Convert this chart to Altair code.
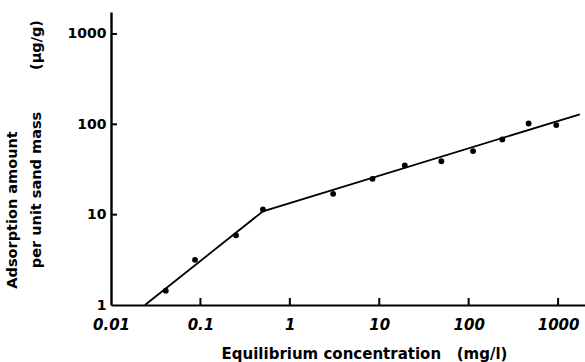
import altair as alt
import pandas as pd

# Measured adsorption on sand: equilibrium concentration (mg/l) vs amount adsorbed (ug/g)
conc = [0.041, 0.087, 0.25, 0.50, 3.05, 8.4, 19.3, 49.5, 112, 238, 468, 955]
amount = [1.44, 3.16, 5.9, 11.4, 17.0, 24.9, 35.0, 39.0, 50.5, 68.0, 102, 98]

# Two-segment fitted isotherm (break near 0.5 mg/l)
fit_conc = [0.024, 0.5, 1750]
fit_amount = [1.0, 10.9, 129]

x_ticks = [0.01, 0.1, 1, 10, 100, 1000]
y_ticks = [1, 10, 100, 1000]

FONT = "DejaVu Sans"
W, H = 474, 293
NBSP = "\u00a0"

xscale = alt.Scale(type="log", domain=[0.01, 2000], nice=False)
yscale = alt.Scale(type="log", domain=[1, 1750], nice=False)

pts = pd.DataFrame({"c": conc, "a": amount})
fit = pd.DataFrame({"c": fit_conc, "a": fit_amount})

line = alt.Chart(fit).mark_line(color="black", strokeWidth=1.8).encode(
    x=alt.X(
        "c:Q",
        scale=xscale,
        axis=alt.Axis(
            values=x_ticks,
            labelExpr="datum.value >= 1 ? format(datum.value, 'd') : format(datum.value, '.2~f')",
            grid=False,
            ticks=False,
            domainColor="black",
            domainWidth=2.2,
            labelFont=FONT,
            labelFontSize=15,
            labelFontWeight="bold",
            labelFontStyle="italic",
            labelColor="black",
            labelPadding=12,
            labelFlush=False,
            labelOverlap=False,
            title="Equilibrium concentration" + NBSP * 3 + "(mg/l)",
            titleFont=FONT,
            titleFontSize=15,
            titleFontWeight="bold",
            titleColor="black",
            titleAnchor="start",
            titleAlign="center",
            titleBaseline="alphabetic",
            titleX=253,
            titleY=53,
        ),
    ),
    y=alt.Y(
        "a:Q",
        scale=yscale,
        axis=alt.Axis(
            values=y_ticks,
            format="d",
            grid=False,
            ticks=False,
            domainColor="black",
            domainWidth=2.4,
            labelFont=FONT,
            labelFontSize=14,
            labelFontWeight="bold",
            labelColor="black",
            labelPadding=5,
            labelFlush=False,
            labelOverlap=False,
            title=None,
        ),
    ),
)

dots = alt.Chart(pts).mark_circle(color="black", opacity=1, size=34).encode(
    x=alt.X("c:Q", scale=xscale),
    y=alt.Y("a:Q", scale=yscale),
)

# Inward-pointing tick marks on both axes
xt = pd.DataFrame({"v": x_ticks[1:]})
yt = pd.DataFrame({"v": y_ticks[1:]})
xticks = alt.Chart(xt).mark_rule(color="black", strokeWidth=2).encode(
    x=alt.X("v:Q", scale=xscale),
    y=alt.value(H),
    y2=alt.value(H - 7),
)
yticks = alt.Chart(yt).mark_rule(color="black", strokeWidth=2).encode(
    y=alt.Y("v:Q", scale=yscale),
    x=alt.value(0),
    x2=alt.value(6),
)

# Rotated y-axis title, two lines
ytitle = pd.DataFrame({
    "t": ["Adsorption amount", "per unit sand mass", "(\u03bcg/g)"],
    "px": [-98, -74, -74],
    "py": [198, 178, 33],
})
ylab = alt.Chart(ytitle).mark_text(
    angle=270, align="center", baseline="middle",
    font=FONT, fontSize=14.5, fontWeight="bold", color="black",
).encode(
    text="t:N",
    x=alt.X("px:Q", scale=None),
    y=alt.Y("py:Q", scale=None),
)

chart = (
    alt.layer(line, dots, xticks, yticks, ylab)
    .properties(
        width=W,
        height=H,
        autosize=alt.AutoSizeParams(type="none"),
        padding={"left": 111, "top": 12, "right": 0, "bottom": 57},
        background="white",
    )
    .configure_view(stroke=None)
)

chart.save("out.html", embed_options={"renderer": "svg", "actions": False})
